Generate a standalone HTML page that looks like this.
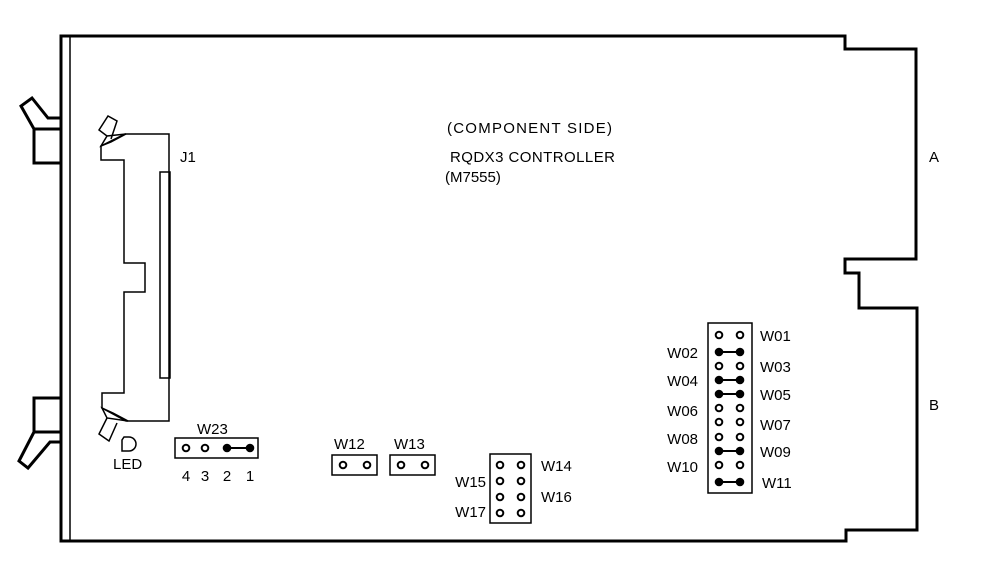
<!DOCTYPE html>
<html><head><meta charset="utf-8"><style>
html,body{margin:0;padding:0;background:#fff;}
svg{display:block;}
text{font-family:"Liberation Sans",sans-serif;font-size:15px;fill:#000;}
</style></head><body>
<svg width="986" height="569" viewBox="0 0 986 569" xmlns="http://www.w3.org/2000/svg">
<g fill="none" stroke="#000" stroke-linejoin="miter">
<path d="M61,36 L845,36 L845,49 L916,49 L916,259 L845,259 L845,273 L859,273 L859,308 L917,308 L917,530 L846,530 L846,541 L61,541 Z" stroke-width="3"/>
<line x1="70" y1="37" x2="70" y2="540" stroke-width="1.5"/>
<rect x="34" y="129" width="27" height="34" stroke-width="3"/>
<path d="M34,129 L21,106 L32,98 L48,118 L60,118" stroke-width="3"/>
<rect x="34" y="398" width="27" height="34" stroke-width="3"/>
<path d="M34,432 L19,461 L28,468 L50,442 L60,442" stroke-width="3"/>
<path d="M125,134 L169,134 L169,421 L126,421 L102,408 L102,393 L124,393 L124,292 L145,292 L145,263 L124,263 L124,160 L101,160 L101,146 Z" stroke-width="1.5"/>
<rect x="160" y="172" width="10" height="206" stroke-width="1.5"/>
<path d="M101,146 L107,136 L126,134 L111,142 Z" stroke-width="1.5"/>
<path d="M107,136 L99,130 L108,116 L117,121 L111,139" stroke-width="1.5"/>
<path d="M102,408 L107,418 L128,421 L113,413 Z" stroke-width="1.5"/>
<path d="M107,418 L99,434 L109,441 L117,423" stroke-width="1.5"/>
<path d="M124,437 L129,437 A7,7 0 0 1 129,451 L122,451 L122,440 Z" stroke-width="1.5"/>
<rect x="175" y="438" width="83" height="20" stroke-width="1.5"/>
<rect x="332" y="455" width="45" height="20" stroke-width="1.5"/>
<rect x="390" y="455" width="45" height="20" stroke-width="1.5"/>
<rect x="490" y="454" width="41" height="69" stroke-width="1.5"/>
<rect x="708" y="323" width="44" height="170" stroke-width="1.5"/>
<g stroke-width="2">
<circle cx="186" cy="448" r="3.3"/><circle cx="205" cy="448" r="3.3"/>
<circle cx="343" cy="465" r="3.3"/><circle cx="367" cy="465" r="3.3"/>
<circle cx="401" cy="465" r="3.3"/><circle cx="425" cy="465" r="3.3"/>
<circle cx="500" cy="465" r="3.3"/><circle cx="521" cy="465" r="3.3"/>
<circle cx="500" cy="481" r="3.3"/><circle cx="521" cy="481" r="3.3"/>
<circle cx="500" cy="497" r="3.3"/><circle cx="521" cy="497" r="3.3"/>
<circle cx="500" cy="513" r="3.3"/><circle cx="521" cy="513" r="3.3"/>
<circle cx="719" cy="335" r="3.3"/><circle cx="740" cy="335" r="3.3"/>
<circle cx="719" cy="366" r="3.3"/><circle cx="740" cy="366" r="3.3"/>
<circle cx="719" cy="408" r="3.3"/><circle cx="740" cy="408" r="3.3"/>
<circle cx="719" cy="422" r="3.3"/><circle cx="740" cy="422" r="3.3"/>
<circle cx="719" cy="437" r="3.3"/><circle cx="740" cy="437" r="3.3"/>
<circle cx="719" cy="465" r="3.3"/><circle cx="740" cy="465" r="3.3"/>
</g>
<g stroke-width="2">
<line x1="227" y1="448" x2="250" y2="448"/>
<line x1="719" y1="352" x2="740" y2="352"/>
<line x1="719" y1="380" x2="740" y2="380"/>
<line x1="719" y1="394" x2="740" y2="394"/>
<line x1="719" y1="451" x2="740" y2="451"/>
<line x1="719" y1="482" x2="740" y2="482"/>
</g>
</g>
<g fill="#000">
<circle cx="227" cy="448" r="4.3"/><circle cx="250" cy="448" r="4.3"/>
<circle cx="719" cy="352" r="4.3"/><circle cx="740" cy="352" r="4.3"/>
<circle cx="719" cy="380" r="4.3"/><circle cx="740" cy="380" r="4.3"/>
<circle cx="719" cy="394" r="4.3"/><circle cx="740" cy="394" r="4.3"/>
<circle cx="719" cy="451" r="4.3"/><circle cx="740" cy="451" r="4.3"/>
<circle cx="719" cy="482" r="4.3"/><circle cx="740" cy="482" r="4.3"/>
</g>
<text x="447" y="133" textLength="165">(COMPONENT SIDE)</text>
<text x="450" y="162" textLength="165">RQDX3 CONTROLLER</text>
<text x="445" y="182">(M7555)</text>
<text x="180" y="162">J1</text>
<text x="929" y="162">A</text>
<text x="929" y="410">B</text>
<text x="113" y="469">LED</text>
<text x="197" y="434">W23</text>
<text x="186" y="481" text-anchor="middle">4</text>
<text x="205" y="481" text-anchor="middle">3</text>
<text x="227" y="481" text-anchor="middle">2</text>
<text x="250" y="481" text-anchor="middle">1</text>
<text x="334" y="449">W12</text>
<text x="394" y="449">W13</text>
<text x="541" y="471">W14</text>
<text x="541" y="502">W16</text>
<text x="486" y="487" text-anchor="end">W15</text>
<text x="486" y="517" text-anchor="end">W17</text>
<text x="760" y="341">W01</text>
<text x="760" y="372">W03</text>
<text x="760" y="400">W05</text>
<text x="760" y="430">W07</text>
<text x="760" y="457">W09</text>
<text x="762" y="488">W11</text>
<text x="698" y="358" text-anchor="end">W02</text>
<text x="698" y="386" text-anchor="end">W04</text>
<text x="698" y="416" text-anchor="end">W06</text>
<text x="698" y="444" text-anchor="end">W08</text>
<text x="698" y="472" text-anchor="end">W10</text>
</svg>
</body></html>
